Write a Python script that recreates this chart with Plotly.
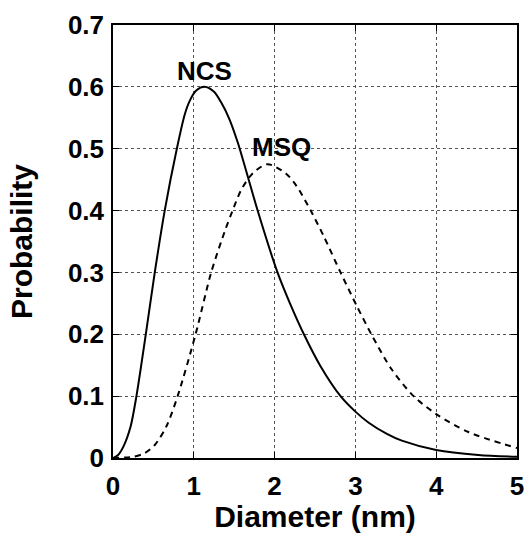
import plotly.graph_objects as go

# NCS (solid) curve
ncs_x = [0, 0.063, 0.127, 0.218, 0.29, 0.406, 0.517, 0.64, 0.79, 0.887, 0.948, 1.03, 1.133, 1.25, 1.338, 1.44, 1.544, 1.675, 1.79, 2.036, 2.19, 2.37, 2.57, 2.816, 3.0, 3.165, 3.39, 3.575, 4.0, 4.52, 5.0]
ncs_y = [0, 0.005, 0.018, 0.051, 0.10, 0.20, 0.30, 0.40, 0.50, 0.555, 0.577, 0.594, 0.600, 0.592, 0.575, 0.548, 0.510, 0.452, 0.40, 0.30, 0.250, 0.198, 0.148, 0.10, 0.075, 0.057, 0.039, 0.028, 0.013, 0.005, 0.002]

# MSQ (dashed) curve
msq_x = [0, 0.25, 0.394, 0.517, 0.66, 0.80, 1.022, 1.215, 1.39, 1.48, 1.585, 1.728, 1.913, 2.139, 2.27, 2.447, 2.61, 2.816, 3.02, 3.21, 3.45, 3.72, 4.0, 4.397, 5.0]
msq_y = [0, 0.002, 0.008, 0.021, 0.051, 0.10, 0.20, 0.30, 0.369, 0.40, 0.433, 0.46, 0.475, 0.46, 0.440, 0.40, 0.358, 0.30, 0.245, 0.197, 0.143, 0.10, 0.071, 0.042, 0.016]

x_ticks = [0, 1, 2, 3, 4, 5]
y_ticks = [0, 0.1, 0.2, 0.3, 0.4, 0.5, 0.6, 0.7]
y_tick_labels = ["0", "0.1", "0.2", "0.3", "0.4", "0.5", "0.6", "0.7"]

labels = ["NCS", "MSQ"]
label_x = [1.13, 2.09]
label_y = [0.626, 0.502]

FONT = "Arial, Liberation Sans, Helvetica, sans-serif"

fig = go.Figure()
fig.add_trace(go.Scatter(x=ncs_x, y=ncs_y, mode="lines",
                         line=dict(color="black", width=2, shape="spline", smoothing=0.8), name="NCS"))
fig.add_trace(go.Scatter(x=msq_x, y=msq_y, mode="lines",
                         line=dict(color="black", width=2, dash="6px,5px", shape="spline", smoothing=0.8), name="MSQ"))

for t, lx, ly in zip(labels, label_x, label_y):
    fig.add_annotation(x=lx, y=ly, text="<b>%s</b>" % t, showarrow=False,
                       font=dict(family=FONT, size=26, color="black"))

axis_common = dict(showline=True, linecolor="black", linewidth=1.5, mirror="ticks",
                   ticks="inside", ticklen=6, tickcolor="black", tickwidth=1.2,
                   showgrid=True, gridcolor="#555555", griddash="dot", gridwidth=1,
                   zeroline=False, automargin=False,
                   tickfont=dict(family=FONT, size=26, color="black"))

fig.update_xaxes(range=[0, 5], tickvals=x_ticks, ticktext=["<b>%d</b>" % v for v in x_ticks],
                 title=dict(text="<b>Diameter (nm)</b>", font=dict(family=FONT, size=30, color="black"), standoff=8),
                 ticklabelstandoff=4, **axis_common)
fig.update_yaxes(range=[0, 0.7], tickvals=y_ticks, ticktext=["<b>%s</b>" % s for s in y_tick_labels],
                 title=dict(text="<b>Probability</b>", font=dict(family=FONT, size=30, color="black"), standoff=26),
                 ticklabelstandoff=2, **axis_common)

fig.update_layout(width=528, height=533, margin=dict(l=113, r=11, t=25, b=75),
                  paper_bgcolor="white", plot_bgcolor="white", showlegend=False)

# remove the default page margin so the figure fills the 528x533 window exactly
fig.write_html("out.html", config={"displayModeBar": False},
               post_script="document.body.style.margin='0';document.body.style.overflow='hidden';")
